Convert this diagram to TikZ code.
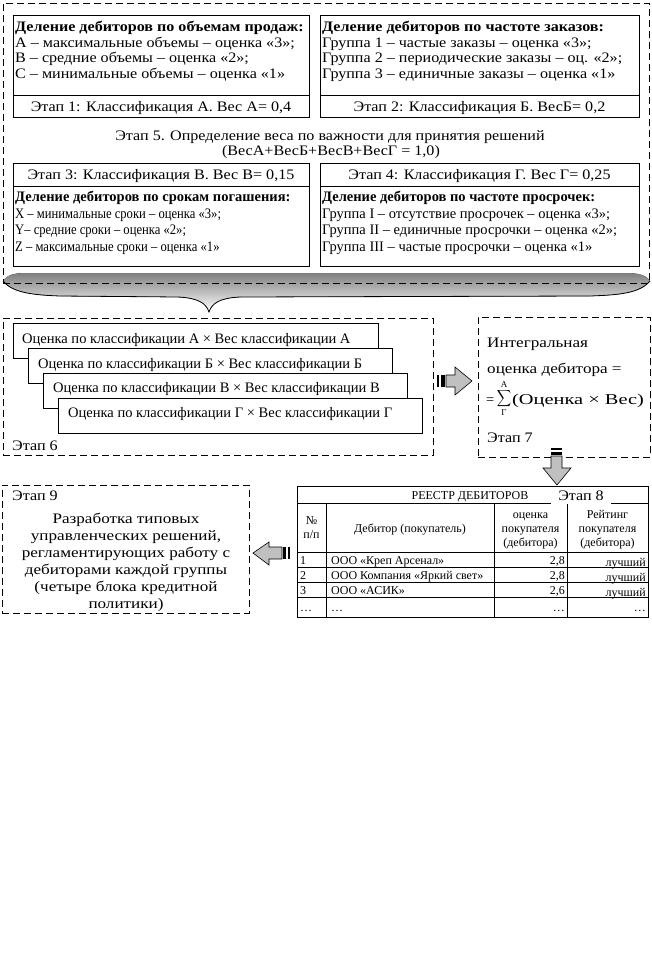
\documentclass[tikz,border=0pt]{standalone}
\usepackage{fontspec}
\setmainfont{Liberation Serif}
\newfontfamily\fsA[FakeStretch=1.11]{Liberation Serif}
\newfontfamily\fsB[FakeStretch=0.87]{Liberation Serif}
\newfontfamily\fsC[FakeStretch=1.18]{Liberation Serif}
\newfontfamily\fsD[FakeStretch=1.36]{Liberation Serif}
\definecolor{shade}{RGB}{192,192,192}
\newcommand\ftop{\fsA\fontsize{14.5}{16}\selectfont}
\newcommand\fslim{\fsB\fontsize{14.5}{16}\selectfont}
\newcommand\fmid{\fontsize{14.5}{16}\selectfont}
\newcommand\fwide{\fsC\fontsize{14.5}{16}\selectfont}
\newcommand\fform{\fsD\fontsize{15}{16}\selectfont}
\newcommand\ftab{\fontsize{12}{13}\selectfont}
\begin{document}
\begin{tikzpicture}[x=1pt,y=-1pt,
  box/.style={draw,line width=0.8pt,fill=white,inner sep=0pt,anchor=north west},
  dbox/.style={draw,line width=0.9pt,dash pattern=on 7pt off 4pt,inner sep=0pt,anchor=north west},
  ln/.style={inner sep=0pt,anchor=base west},
  cn/.style={inner sep=0pt,anchor=base},
  rn/.style={inner sep=0pt,anchor=base east},
  garrow/.style={fill=shade,draw=black,line width=0.6pt,line join=miter},
  bar/.style={fill=black}
]
\useasboundingbox (0,0) rectangle (652,961);
\fill[white] (0,0) rectangle (652,961);

% grey brace under the first block
\fill[shade] (3,281) .. controls (8,274) and (15,273) .. (30,273) -- (622,273)
  .. controls (637,273) and (645,274) .. (650,281)
  .. controls (640,293) and (620,295) .. (590,296) -- (240,297)
  .. controls (220,298) and (212,303) .. (209,312)
  .. controls (206,303) and (198,298) .. (178,297) -- (60,296)
  .. controls (30,295) and (12,292) .. (3,281) -- cycle;
\draw[line width=0.8pt] (650,281)
  .. controls (640,293) and (620,295) .. (590,296) -- (240,297)
  .. controls (220,298) and (212,303) .. (209,312)
  .. controls (206,303) and (198,298) .. (178,297) -- (60,296)
  .. controls (30,295) and (12,292) .. (3,281);

\node[dbox, minimum width=646, minimum height=280] (outer) at (3,3) {};

% box 1
\node[box, minimum width=296, minimum height=102] (b1) at (13,15) {};
\draw[line width=0.8pt] (13,95) -- (309,95);
\node[ln,font=\ftop\bfseries] (b1t) at (15,31) {Деление дебиторов по объемам продаж:};
\node[ln,font=\ftop] (b1a) at (15,47) {А – максимальные объемы – оценка «3»;};
\node[ln,font=\ftop] (b1b) at (15,62) {В – средние объемы – оценка «2»;};
\node[ln,font=\ftop] (b1c) at (15,78) {С – минимальные объемы – оценка «1»};
\node[cn,font=\ftop] (b1s) at (161,111) {Этап 1: Классификация А. Вес А= 0,4};

% box 2
\node[box, minimum width=319, minimum height=102] (b2) at (320,15) {};
\draw[line width=0.8pt] (320,95) -- (639,95);
\node[ln,font=\ftop\bfseries] (b2t) at (322,31) {Деление дебиторов по частоте заказов:};
\node[ln,font=\ftop] (b2a) at (322,47) {Группа 1 – частые заказы – оценка «3»;};
\node[ln,font=\ftop] (b2b) at (322,62) {Группа 2 – периодические заказы – оц. «2»;};
\node[ln,font=\ftop] (b2c) at (322,78) {Группа 3 – единичные заказы – оценка «1»};
\node[cn,font=\ftop] (b2s) at (479.5,111) {Этап 2: Классификация Б. ВесБ= 0,2};

% stage 5
\node[cn,font=\ftop] (s5a) at (330,140) {Этап 5. Определение веса по важности для принятия решений};
\node[cn,font=\ftop] (s5b) at (331,155) {(ВесА+ВесБ+ВесВ+ВесГ = 1,0)};

% box 3
\node[box, minimum width=296, minimum height=103] (b3) at (13,163) {};
\draw[line width=0.8pt] (13,186) -- (309,186);
\node[cn,font=\ftop] (b3s) at (161,179) {Этап 3: Классификация В. Вес В= 0,15};
\node[ln,font=\fmid\bfseries] (b3t) at (15,201) {Деление дебиторов по срокам погашения:};
\node[ln,font=\fslim] (b3a) at (15,218) {X – минимальные сроки – оценка «3»;};
\node[ln,font=\fslim] (b3b) at (15,234) {Y– средние сроки – оценка «2»;};
\node[ln,font=\fslim] (b3c) at (15,251) {Z – максимальные сроки – оценка «1»};

% box 4
\node[box, minimum width=319, minimum height=103] (b4) at (320,163) {};
\draw[line width=0.8pt] (320,186) -- (639,186);
\node[cn,font=\ftop] (b4s) at (479.5,179) {Этап 4: Классификация Г. Вес Г= 0,25};
\node[ln,font=\fmid\bfseries] (b4t) at (322,201) {Деление дебиторов по частоте просрочек:};
\node[ln,font=\fmid] (b4a) at (322,218) {Группа I – отсутствие просрочек – оценка «3»;};
\node[ln,font=\fmid] (b4b) at (322,234) {Группа II – единичные просрочки – оценка «2»;};
\node[ln,font=\fmid] (b4c) at (322,251) {Группа III – частые просрочки – оценка «1»};

% stage 6
\node[dbox, minimum width=430, minimum height=137] (s6) at (3,318) {};
\node[box, minimum width=365, minimum height=35] (p1) at (13,323) {};
\node[box, minimum width=364, minimum height=35] (p2) at (28,348) {};
\node[box, minimum width=364, minimum height=35] (p3) at (43,373) {};
\node[box, minimum width=364, minimum height=35] (p4) at (58,398) {};
\node[ln,font=\fmid] (p1t) at (22,343) {Оценка по классификации А × Вес классификации А};
\node[ln,font=\fmid] (p2t) at (38,368) {Оценка по классификации Б × Вес классификации Б};
\node[ln,font=\fmid] (p3t) at (53,392) {Оценка по классификации В × Вес классификации В};
\node[ln,font=\fmid] (p4t) at (68,417) {Оценка по классификации Г × Вес классификации Г};
\node[ln,font=\ftop] (s6l) at (12,450) {Этап 6};

% stage 7
\node[dbox, minimum width=172, minimum height=140] (s7) at (478,317) {};
\node[ln,font=\fwide] (s7a) at (487,347) {Интегральная};
\node[ln,font=\fwide] (s7b) at (487,373) {оценка дебитора =};
\node[ln,font=\fmid] (s7eq) at (486,404) {=};
\node[inner sep=0pt] (s7sum) at (504,399) {\scalebox{1.0}[1.15]{$\displaystyle\sum$}};
\node[inner sep=0pt,font=\fontsize{9}{9}\selectfont] (s7up) at (504,384.5) {А};
\node[inner sep=0pt,font=\fontsize{9}{9}\selectfont] (s7dn) at (504,412.5) {Г};
\node[ln,font=\fform] (s7f) at (512,404) {(Оценка × Вес)};
\node[ln,font=\ftop] (s7l) at (487,442) {Этап 7};

% arrow 6 -> 7
\fill[bar] (437,375) rectangle (439,387);
\fill[bar] (441,375) rectangle (445,387);
\filldraw[garrow] (446,375) -- (455,375) -- (455,367) -- (472,381) -- (455,395) -- (455,387) -- (446,387) -- cycle;

% arrow 7 -> 8
\fill[bar] (551,448) rectangle (562,450);
\fill[bar] (551,452) rectangle (562,455);
\filldraw[garrow] (551,456) -- (551,468) -- (543,468) -- (557,485) -- (571,468) -- (562,468) -- (562,456) -- cycle;

% table (stage 8)
\node[box, minimum width=351, minimum height=131] (tab) at (297,486) {};
\draw[line width=0.8pt] (297,503) -- (648,503);
\draw[line width=0.8pt] (297,552) -- (648,552);
\draw[line width=0.8pt] (297,567) -- (648,567);
\draw[line width=0.8pt] (297,582) -- (648,582);
\draw[line width=0.8pt] (297,597) -- (648,597);
\draw[line width=0.8pt] (326,503) -- (326,617);
\draw[line width=0.8pt] (494,503) -- (494,617);
\draw[line width=0.8pt] (567,503) -- (567,617);
\node[cn,font=\ftab] (tt) at (470,499) {РЕЕСТР ДЕБИТОРОВ};
\node[fill=white,inner sep=0pt,minimum width=60,minimum height=16,font=\ftop] (s8l) at (581,496) {Этап 8};
\node[cn,font=\ftab] (h1a) at (311.5,524) {№};
\node[cn,font=\ftab] (h1b) at (311.5,538) {п/п};
\node[cn,font=\ftab] (h2) at (410,532) {Дебитор (покупатель)};
\node[cn,font=\ftab] (h3a) at (530.5,518) {оценка};
\node[cn,font=\ftab] (h3b) at (530.5,532) {покупателя};
\node[cn,font=\ftab] (h3c) at (530.5,546) {(дебитора)};
\node[cn,font=\ftab] (h4a) at (607.5,518) {Рейтинг};
\node[cn,font=\ftab] (h4b) at (607.5,532) {покупателя};
\node[cn,font=\ftab] (h4c) at (607.5,546) {(дебитора)};
\node[ln,font=\ftab] (r1a) at (300,564) {1};
\node[ln,font=\ftab] (r1b) at (331,564) {ООО «Креп Арсенал»};
\node[rn,font=\ftab] (r1c) at (565,564) {2,8};
\node[rn,font=\ftab] (r1d) at (646,566) {лучший};
\node[ln,font=\ftab] (r2a) at (300,579) {2};
\node[ln,font=\ftab] (r2b) at (331,579) {ООО Компания «Яркий свет»};
\node[rn,font=\ftab] (r2c) at (565,579) {2,8};
\node[rn,font=\ftab] (r2d) at (646,581) {лучший};
\node[ln,font=\ftab] (r3a) at (300,594) {3};
\node[ln,font=\ftab] (r3b) at (331,594) {ООО «АСИК»};
\node[rn,font=\ftab] (r3c) at (565,594) {2,6};
\node[rn,font=\ftab] (r3d) at (646,596) {лучший};
\node[ln,font=\ftab] (r4a) at (300,611) {…};
\node[ln,font=\ftab] (r4b) at (331,611) {…};
\node[rn,font=\ftab] (r4c) at (565,611) {…};
\node[rn,font=\ftab] (r4d) at (646,611) {…};

% arrow 8 -> 9
\fill[bar] (283,547) rectangle (286,559);
\fill[bar] (288,547) rectangle (290,559);
\filldraw[garrow] (282,547) -- (269,547) -- (269,542) -- (253,553) -- (269,565) -- (269,559) -- (282,559) -- cycle;

% stage 9
\node[dbox, minimum width=247, minimum height=128] (s9) at (2,485) {};
\node[ln,font=\ftop] (s9l) at (12,500) {Этап 9};
\foreach \t [count=\i] in {{Разработка типовых},{управленческих решений,},{регламентирующих работу с},{дебиторами каждой группы},{(четыре блока кредитной},{политики)}}
  \node[cn,font=\fwide] (s9t\i) at (126,506+17*\i) {\t};
\end{tikzpicture}
\end{document}
